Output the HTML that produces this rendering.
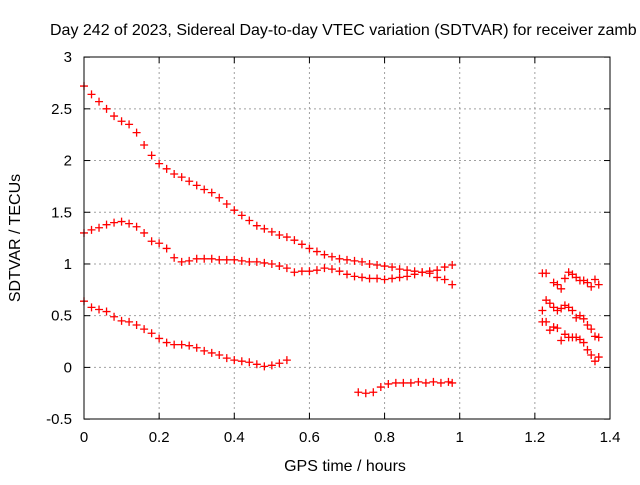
<!DOCTYPE html>
<html><head><meta charset="utf-8"><style>
body{margin:0;background:#fff}
svg text{font-family:"Liberation Sans",sans-serif;font-size:15px;fill:#000}
</style></head><body>
<svg id="c" width="640" height="480">
<text x="50" y="35" style="font-size:16px">Day 242 of 2023, Sidereal Day-to-day VTEC variation (SDTVAR) for receiver zamb</text>
<text x="345" y="471" text-anchor="middle" style="font-size:16px">GPS time / hours</text>
<text transform="translate(20,238) rotate(-90)" text-anchor="middle" style="font-size:16px">SDTVAR / TECUs</text>
<g id="grid"></g><g id="marks"></g>
<rect x="84" y="57" width="526" height="362" fill="none" stroke="#000" stroke-width="1"/>
</svg>
<script>
const xTicks=[0,0.2,0.4,0.6,0.8,1,1.2,1.4];
const xTickLabels=["0","0.2","0.4","0.6","0.8","1","1.2","1.4"];
const yTicks=[-0.5,0,0.5,1,1.5,2,2.5,3];
const yTickLabels=["-0.5","0","0.5","1","1.5","2","2.5","3"];
const topX=[0,0.02,0.04,0.06,0.08,0.1,0.12,0.14,0.16,0.18,0.2,0.22,0.24,0.26,0.28,0.3,0.32,0.34,0.36,0.38,0.4,0.42,0.44,0.46,0.48,0.5,0.52,0.54,0.56,0.58,0.6,0.62,0.64,0.66,0.68,0.7,0.72,0.74,0.76,0.78,0.8,0.82,0.84,0.86,0.88,0.9,0.92,0.94,0.96,0.98];
const topY=[2.72,2.64,2.57,2.5,2.43,2.38,2.35,2.27,2.15,2.05,1.97,1.92,1.87,1.84,1.8,1.76,1.72,1.69,1.64,1.58,1.52,1.47,1.42,1.37,1.34,1.31,1.28,1.26,1.23,1.19,1.15,1.12,1.09,1.07,1.05,1.04,1.03,1.02,1.0,0.99,0.98,0.97,0.95,0.94,0.93,0.92,0.91,0.87,0.85,0.8];
const midX=topX;
const midY=[1.3,1.33,1.35,1.38,1.4,1.41,1.39,1.36,1.3,1.22,1.2,1.15,1.06,1.02,1.03,1.05,1.05,1.05,1.04,1.04,1.04,1.03,1.02,1.02,1.01,1.0,0.98,0.96,0.92,0.93,0.93,0.94,0.96,0.95,0.93,0.9,0.88,0.87,0.86,0.86,0.85,0.86,0.87,0.88,0.9,0.92,0.93,0.94,0.97,0.99];
const lowX=[0,0.02,0.04,0.06,0.08,0.1,0.12,0.14,0.16,0.18,0.2,0.22,0.24,0.26,0.28,0.3,0.32,0.34,0.36,0.38,0.4,0.42,0.44,0.46,0.48,0.5,0.52,0.54];
const lowY=[0.64,0.58,0.56,0.54,0.49,0.45,0.44,0.41,0.37,0.33,0.28,0.24,0.22,0.22,0.21,0.19,0.16,0.14,0.12,0.09,0.07,0.06,0.05,0.03,0.01,0.02,0.04,0.07];
const negX=[0.73,0.75,0.77,0.79,0.81,0.83,0.85,0.87,0.89,0.91,0.93,0.95,0.97,0.98];
const negY=[-0.24,-0.25,-0.24,-0.19,-0.16,-0.15,-0.15,-0.15,-0.14,-0.15,-0.14,-0.15,-0.14,-0.15];
const rAX=[1.22,1.23,1.25,1.26,1.27,1.28,1.29,1.3,1.31,1.32,1.33,1.34,1.35,1.36,1.37];
const rAY=[0.91,0.91,0.82,0.8,0.76,0.86,0.92,0.9,0.87,0.84,0.84,0.82,0.78,0.85,0.8];
const rBX=[1.22,1.23,1.24,1.25,1.26,1.27,1.28,1.29,1.3,1.31,1.32,1.33,1.34,1.35,1.36,1.37];
const rBY=[0.55,0.65,0.62,0.58,0.55,0.57,0.6,0.58,0.55,0.48,0.5,0.47,0.41,0.37,0.3,0.29];
const rCX=[1.22,1.23,1.24,1.25,1.26,1.27,1.28,1.29,1.3,1.31,1.32,1.33,1.34,1.35,1.36,1.37];
const rCY=[0.44,0.44,0.36,0.39,0.38,0.26,0.32,0.29,0.29,0.29,0.27,0.24,0.17,0.12,0.06,0.1];
const X=v=>84+v*(526/1.4), Y=v=>367.4-v*(362/3.5);
const ns="http://www.w3.org/2000/svg";
const svg=document.getElementById('c'),grid=document.getElementById('grid'),marks=document.getElementById('marks');
function mk(t,a,p){const e=document.createElementNS(ns,t);for(const k in a)e.setAttribute(k,a[k]);p.appendChild(e);return e;}
xTicks.forEach((t,i)=>{const x=X(t);
 if(i>0&&i<xTicks.length-1){const g=mk('line',{x1:x,x2:x,y1:57,y2:419,stroke:'#a0a0a0','stroke-dasharray':'2,3'},grid);
 
 }
 mk('line',{x1:x,x2:x,y1:419,y2:413,stroke:'#000'},grid);mk('line',{x1:x,x2:x,y1:57,y2:63,stroke:'#000'},grid);
 const l=mk('text',{x:x,y:442,'text-anchor':'middle'},svg);l.textContent=xTickLabels[i];
 
 });
yTicks.forEach((t,i)=>{const y=Y(t);
 if(i>0&&i<yTicks.length-1){const g=mk('line',{x1:84,x2:610,y1:y,y2:y,stroke:'#a0a0a0','stroke-dasharray':'2,3'},grid);
 
 }
 mk('line',{x1:84,x2:90,y1:y,y2:y,stroke:'#000'},grid);mk('line',{x1:604,x2:610,y1:y,y2:y,stroke:'#000'},grid);
 const l=mk('text',{x:72,y:y+5,'text-anchor':'end'},svg);l.textContent=yTickLabels[i];
 
 });
function series(xs,ys,name){const g=mk('g',{},marks);
 
 
 xs.forEach((xv,i)=>{const x=X(xv),y=Y(ys[i]);
  mk('path',{d:`M${x-4},${y}h8M${x},${y-4}v8`,stroke:'#f00','stroke-width':1.3,fill:'none'},g);});}
series(topX,topY,'series-upper');series(midX,midY,'series-middle');series(lowX,lowY,'series-lower');
series(negX,negY,'series-negative');series(rAX,rAY,'series-right-upper');series(rBX,rBY,'series-right-middle');series(rCX,rCY,'series-right-lower');
</script>
</body></html>
